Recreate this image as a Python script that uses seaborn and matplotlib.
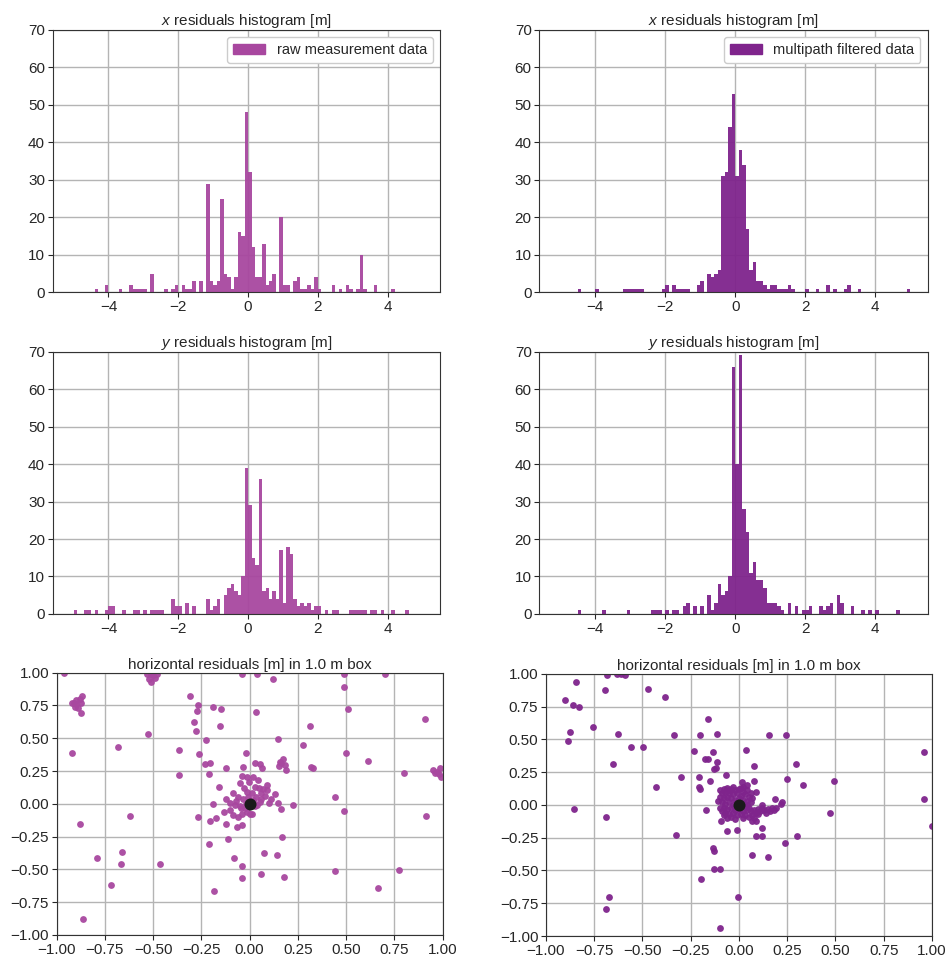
import numpy as np
import pandas as pd
import matplotlib
matplotlib.use("Agg")
from matplotlib import pyplot as plt
from matplotlib.patches import Patch
from matplotlib.ticker import MultipleLocator
import seaborn as sns

sns.set_style("ticks", {"axes.grid": True, "grid.color": "#b4b4b4",
                        "axes.edgecolor": "#333333"})
plt.rcParams['font.family'] = ['Liberation Sans', 'DejaVu Sans']
plt.rcParams['mathtext.fontset'] = 'custom'
plt.rcParams['mathtext.it'] = 'Liberation Sans:italic'
plt.rcParams['mathtext.rm'] = 'Liberation Sans'

RAW_COLOR = '#a8479f'
FILT_COLOR = '#7f248c'

# histogram counts, keyed by bin start (bins are 0.1 m wide)
raw_x_bins = [-4.4, -4.1, -3.7, -3.4, -3.3, -3.2, -3.1, -3.0, -2.8, -2.4, -2.2, -2.1,
              -1.9, -1.8, -1.7, -1.6, -1.4, -1.2, -1.1, -1.0, -0.9, -0.8, -0.7, -0.6,
              -0.5, -0.4, -0.3, -0.2, -0.1, 0.0, 0.1, 0.2, 0.3, 0.4, 0.5, 0.6, 0.7,
              0.9, 1.0, 1.1, 1.3, 1.4, 1.5, 1.6, 1.7, 1.8, 1.9, 2.0, 2.4, 2.6, 2.8,
              2.9, 3.1, 3.2, 3.3, 3.6, 4.1]
raw_x_counts = [1, 2, 1, 2, 1, 1, 1, 1, 5, 1, 1, 2,
                2, 1, 1, 3, 3, 29, 3, 2, 3, 25, 5, 4,
                1, 4, 16, 15, 48, 32, 12, 4, 4, 13, 2, 3, 5,
                20, 2, 2, 3, 4, 1, 1, 2, 1, 4, 1, 2, 1, 2,
                1, 1, 10, 1, 2, 1]

filt_x_bins = [-4.5, -4.0, -3.2, -3.1, -3.0, -2.9, -2.8, -2.7, -2.1, -2.0, -1.8, -1.7,
               -1.6, -1.5, -1.4, -1.1, -1.0, -0.8, -0.7, -0.6, -0.5, -0.4, -0.3, -0.2,
               -0.1, 0.0, 0.1, 0.2, 0.3, 0.4, 0.5, 0.6, 0.7, 0.8, 0.9, 1.0, 1.1, 1.2,
               1.3, 1.4, 1.5, 1.6, 2.0, 2.3, 2.6, 2.8, 3.1, 3.2, 3.5, 4.9]
filt_x_counts = [1, 1, 1, 1, 1, 1, 1, 1, 1, 2, 2, 1,
                 1, 1, 1, 2, 3, 5, 4, 5, 6, 31, 32, 44,
                 53, 31, 38, 34, 17, 6, 8, 3, 3, 2, 1, 2, 2, 1,
                 1, 1, 2, 1, 1, 1, 2, 1, 1, 2, 1, 1]

raw_y_bins = [-5.0, -4.7, -4.6, -4.4, -4.1, -4.0, -3.9, -3.6, -3.3, -3.2, -3.0, -2.8,
              -2.7, -2.6, -2.5, -2.2, -2.1, -2.0, -1.8, -1.6, -1.2, -1.1, -1.0, -0.9,
              -0.7, -0.6, -0.5, -0.4, -0.3, -0.2, -0.1, 0.0, 0.1, 0.2, 0.3, 0.4, 0.5,
              0.6, 0.7, 0.8, 0.9, 1.0, 1.1, 1.2, 1.3, 1.4, 1.5, 1.6, 1.7, 1.8, 1.9,
              2.0, 2.2, 2.4, 2.5, 2.9, 3.0, 3.1, 3.2, 3.3, 3.5, 3.6, 3.8, 4.1, 4.5]
raw_y_counts = [1, 1, 1, 1, 1, 2, 2, 1, 1, 1, 1, 1,
                1, 1, 1, 4, 2, 2, 3, 2, 4, 1, 2, 4,
                5, 7, 8, 6, 5, 10, 39, 29, 15, 13, 36, 6, 7,
                4, 6, 4, 17, 3, 18, 16, 4, 2, 3, 2, 3, 1, 2,
                2, 1, 1, 1, 1, 1, 1, 1, 1, 1, 1, 1, 1, 1]

filt_y_bins = [-4.5, -3.8, -3.1, -2.4, -2.3, -2.2, -2.0, -1.8, -1.7, -1.5, -1.4, -1.2,
               -1.0, -0.8, -0.7, -0.6, -0.5, -0.4, -0.3, -0.2, -0.1, 0.0, 0.1, 0.2,
               0.3, 0.4, 0.5, 0.6, 0.7, 0.8, 0.9, 1.0, 1.1, 1.2, 1.3, 1.5, 1.7, 1.9,
               2.0, 2.1, 2.4, 2.5, 2.6, 2.7, 2.9, 3.0, 3.3, 3.6, 3.8, 4.0, 4.6]
filt_y_counts = [1, 1, 1, 1, 1, 1, 1, 1, 1, 2, 3, 2,
                 2, 5, 1, 3, 8, 5, 6, 10, 66, 40, 69, 28,
                 22, 11, 14, 9, 9, 7, 3, 3, 3, 2, 1, 3, 2, 1,
                 1, 2, 2, 1, 2, 3, 5, 3, 2, 1, 1, 1, 1]

# horizontal residuals (east, north) [m]
raw_e = [-0.96, -0.53, -0.51, -0.50, -0.48, -0.52, -0.51, -0.49, -0.04, 0.04, 0.12, 0.49,
         0.49, 0.70, -0.91, -0.90, -0.88, -0.87, -0.905, -0.89, -0.90, -0.875, -0.92, -0.875,
         -0.31, -0.27, -0.275, -0.19, -0.15, 0.035, 0.51, 0.91, -0.29, -0.155, 0.315, -0.28,
         -0.525, 0.145, -0.225, 0.275, -0.68, -0.365, -0.92, -0.02, -0.26, 0.50, 0.615, -0.23,
         -0.205, -0.12, -0.035, 0.03, 0.055, 0.065, 0.175, 0.165, 0.15, 0.185, 0.19, 0.155,
         0.32, 0.33, -0.365, -0.21, 0.80, 0.95, 0.97, 0.985, 0.99, 0.98, 0.96,
         -0.04, -0.015, 0.02, 0.045, 0.09, -0.05, -0.005, 0.03, 0.07, -0.085, -0.06, -0.035,
         -0.015, 0.01, 0.035, 0.06, 0.09, -0.12, -0.10, -0.075, -0.05, -0.025, 0.00, 0.03,
         0.055, 0.13, 0.10, 0.145, 0.16, 0.225, -0.16, -0.19, -0.135, -0.10, -0.085, -0.06,
         -0.04, -0.015, 0.01, -0.265, -0.205, -0.175, -0.125, -0.065, -0.04, 0.17, -0.21, -0.11,
         -0.08, -0.04, -0.04, 0.06, 0.075, 0.14, 0.18, -0.185, -0.88, -0.62, -0.79, -0.66,
         -0.665, -0.465, -0.72, -0.865, 0.44, 0.49, 0.915, 0.44, 0.775, 0.665,
         0.02, -0.02, 0.04, 0.06, -0.07, 0.08, 0.11, 0.05, -0.03, -0.045, 0.015, -0.01]
raw_n = [1.00, 0.99, 0.99, 0.98, 0.99, 0.95, 0.93, 0.96, 0.99, 0.99, 0.95, 0.99,
         0.89, 0.99, 0.77, 0.79, 0.80, 0.82, 0.74, 0.73, 0.76, 0.77, 0.77, 0.69,
         0.82, 0.75, 0.71, 0.74, 0.72, 0.70, 0.72, 0.65, 0.625, 0.595, 0.59, 0.555,
         0.535, 0.495, 0.485, 0.45, 0.43, 0.41, 0.39, 0.39, 0.38, 0.385, 0.33, 0.30,
         0.31, 0.275, 0.28, 0.31, 0.30, 0.27, 0.345, 0.31, 0.29, 0.295, 0.255, 0.32,
         0.28, 0.27, 0.22, 0.225, 0.235, 0.255, 0.245, 0.27, 0.205, 0.225, 0.235,
         0.21, 0.205, 0.205, 0.18, 0.14, 0.16, 0.17, 0.13, 0.115, 0.08, 0.055, 0.04,
         0.09, 0.08, 0.055, 0.08, 0.105, 0.04, 0.005, -0.01, -0.02, -0.035, -0.075, -0.02,
         0.015, 0.075, 0.01, 0.01, -0.04, -0.01, 0.125, -0.005, -0.065, -0.05, -0.085, -0.10,
         -0.075, -0.06, -0.08, -0.10, -0.13, -0.11, -0.15, -0.175, -0.16, -0.25, -0.31, -0.265,
         -0.41, -0.475, -0.565, -0.535, -0.375, -0.39, -0.555, -0.665, -0.15, -0.095, -0.41, -0.365,
         -0.46, -0.455, -0.62, -0.875, 0.05, -0.055, -0.09, -0.515, -0.505, -0.64,
         0.03, 0.00, -0.01, 0.04, 0.02, 0.06, 0.04, 0.12, 0.12, -0.03, 0.015, 0.05]

filt_e = [-0.63, -0.61, -0.59, -0.685, -0.845, -0.695, -0.47, -0.385, -0.90, -0.86, -0.83, -0.755,
          -0.16, -0.875, -0.885, -0.625, -0.335, -0.20, -0.115, 0.155, 0.245, -0.56, -0.495, -0.235,
          -0.135, 0.035, -0.175, -0.16, -0.115, -0.655, 0.08, 0.295, 0.96, -0.13, -0.12, -0.065,
          -0.30, -0.205, -0.15, 0.25, 0.495, 0.08, -0.43, -0.205, -0.20, 0.33, 0.015, 0.04,
          0.02, 0.09, 0.185, 0.225, 0.22, 0.96, -0.855, -0.69, -0.17, 0.47, 1.00, -0.095,
          -0.06, -0.01, -0.325, 0.09, 0.12, 0.12, 0.30, 0.24, -0.135, -0.13, 0.07, 0.15,
          -0.13, -0.10, -0.195, -0.675, -0.005, -0.69, -0.10,
          -0.08, -0.06, -0.04, -0.02, 0.00, 0.02, -0.09, -0.07, -0.05, -0.03, -0.01, 0.01,
          0.03, 0.05, -0.10, -0.08, -0.06, -0.04, -0.02, 0.00, 0.02, 0.04, 0.06, -0.09,
          -0.07, -0.05, -0.03, -0.01, 0.01, 0.03, 0.05, -0.08, -0.06, -0.04, -0.02, 0.00,
          0.02, 0.04, -0.07, -0.05, -0.03, -0.01, 0.01, 0.03, -0.09, -0.06, -0.04, -0.02,
          0.02, 0.05, 0.07, 0.06, 0.08, 0.09, 0.10, 0.11, 0.12, 0.13, 0.14, 0.15,
          0.16, 0.17, 0.18, 0.19, 0.12, 0.10, 0.08, 0.07, 0.09, -0.10, -0.03, 0.01,
          0.04, 0.06, 0.07, -0.11, -0.10, -0.08, 0.04, -0.05]
filt_n = [1.00, 1.00, 0.99, 0.99, 0.94, 0.875, 0.88, 0.825, 0.80, 0.76, 0.75, 0.595,
          0.655, 0.555, 0.49, 0.54, 0.535, 0.535, 0.54, 0.53, 0.53, 0.44, 0.445, 0.41,
          0.405, 0.42, 0.35, 0.35, 0.325, 0.31, 0.30, 0.31, 0.40, 0.27, 0.28, 0.23,
          0.21, 0.215, 0.185, 0.195, 0.18, 0.18, 0.14, 0.135, 0.12, 0.155, 0.175, 0.155,
          0.14, 0.10, 0.045, 0.025, 0.01, 0.045, -0.035, -0.09, -0.04, -0.065, -0.16, -0.125,
          -0.20, -0.19, -0.23, -0.235, -0.24, -0.175, -0.235, -0.29, -0.325, -0.35, -0.385, -0.40,
          -0.485, -0.485, -0.565, -0.70, -0.705, -0.795, -0.94,
          0.12, 0.13, 0.12, 0.11, 0.12, 0.10, 0.09, 0.10, 0.09, 0.08, 0.09, 0.07,
          0.08, 0.06, 0.06, 0.05, 0.06, 0.05, 0.04, 0.05, 0.04, 0.03, 0.02, 0.02,
          0.01, 0.02, 0.00, 0.02, 0.00, -0.01, -0.02, -0.02, -0.03, -0.02, -0.04, -0.03,
          -0.05, -0.04, -0.06, -0.07, -0.06, -0.08, -0.07, -0.08, -0.05, -0.10, -0.09, -0.11,
          -0.10, -0.09, -0.08, -0.05, -0.04, -0.06, -0.03, -0.05, -0.02, -0.04, -0.06, -0.03,
          -0.05, -0.02, -0.04, -0.02, 0.00, -0.07, -0.10, -0.12, -0.12, 0.11, 0.14, 0.13,
          0.11, 0.09, 0.05, 0.03, -0.02, -0.08, 0.00, 0.11]

fig = plt.figure(figsize=(9.49, 9.64), dpi=100)


def hist_panel(rect, bins, counts, color, title, legend=None):
    ax = fig.add_axes(rect)
    df = pd.DataFrame({'res': np.array(bins) + 0.05, 'n': counts})
    sns.histplot(data=df, x='res', weights='n', binwidth=0.1, binrange=(-5.2, 5.2),
                 color=color, alpha=0.95, linewidth=0, ax=ax)
    ax.set_xlim(-5.6, 5.5)
    ax.set_ylim(0, 70)
    ax.set_xticks([-4, -2, 0, 2, 4])
    ax.set_yticks(range(0, 71, 10))
    ax.set_xlabel('')
    ax.set_ylabel('')
    ax.set_title(title, fontsize=11, pad=3)
    ax.tick_params(labelsize=11, length=3.5, pad=2)
    ax.set_axisbelow(True)
    ax.grid(True, color='#b4b4b4', lw=1)
    if legend:
        ax.legend(handles=[Patch(color=color, label=legend)], loc='upper right',
                  fontsize=10.5, handlelength=2.2, borderaxespad=0.5, framealpha=1)
    return ax


def scatter_panel(rect, east, north, color):
    ax = fig.add_axes(rect)
    sns.scatterplot(x=east, y=north, color=color, s=24, linewidth=0, alpha=0.95, ax=ax)
    sns.scatterplot(x=[0.0], y=[0.0], color='#1a1a1a', s=75, linewidth=0, ax=ax)
    ax.set_xlim(-1, 1)
    ax.set_ylim(-1, 1)
    ax.xaxis.set_major_locator(MultipleLocator(0.25))
    ax.yaxis.set_major_locator(MultipleLocator(0.25))
    ax.set_title('horizontal residuals [m] in 1.0 m box', fontsize=11, pad=3)
    ax.tick_params(labelsize=11, length=3.5, pad=2)
    ax.set_axisbelow(True)
    ax.grid(True, color='#b4b4b4', lw=1)
    return ax


hist_panel([0.0555, 0.6968, 0.4081, 0.2721], raw_x_bins, raw_x_counts, RAW_COLOR,
           '$x$ residuals histogram [m]', 'raw measurement data')
hist_panel([0.5683, 0.6968, 0.4093, 0.2721], filt_x_bins, filt_x_counts, FILT_COLOR,
           '$x$ residuals histogram [m]', 'multipath filtered data')
hist_panel([0.0555, 0.3631, 0.4081, 0.2721], raw_y_bins, raw_y_counts, RAW_COLOR,
           '$y$ residuals histogram [m]')
hist_panel([0.5683, 0.3631, 0.4093, 0.2721], filt_y_bins, filt_y_counts, FILT_COLOR,
           '$y$ residuals histogram [m]')
scatter_panel([0.0597, 0.0301, 0.4067, 0.2721], raw_e, raw_n, RAW_COLOR)
scatter_panel([0.5753, 0.0290, 0.4067, 0.2721], filt_e, filt_n, FILT_COLOR)

plt.savefig('out.png', dpi=100)
